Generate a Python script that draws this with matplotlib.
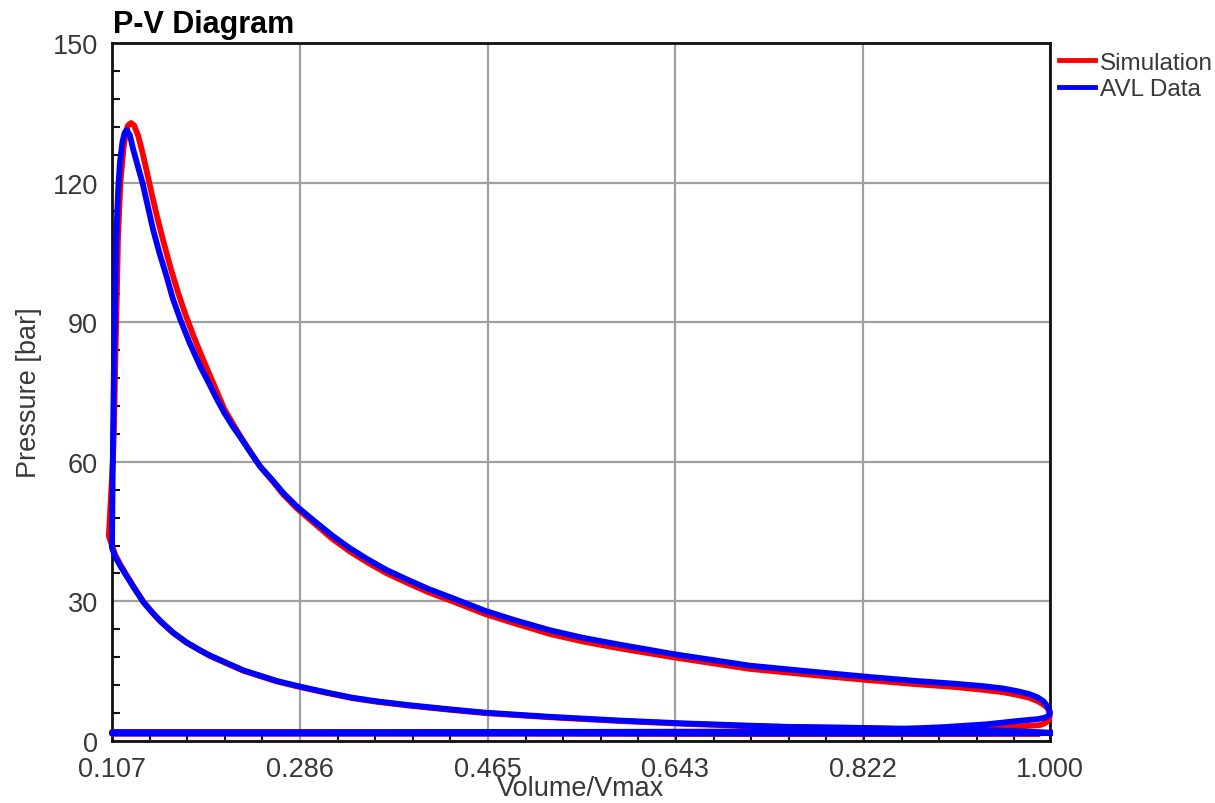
import numpy as np
import matplotlib
matplotlib.use("Agg")
import matplotlib.pyplot as plt
from matplotlib.ticker import MultipleLocator, FixedLocator, AutoMinorLocator

plt.rcParams['font.family'] = ['Liberation Sans', 'DejaVu Sans']

# ---------------- data ----------------
x_ticks = [0.107, 0.286, 0.465, 0.643, 0.822, 1.000]
x_tick_labels = ["0.107", "0.286", "0.465", "0.643", "0.822", "1.000"]
y_ticks = [0, 30, 60, 90, 120, 150]

# AVL Data (measured) -- cycle in order: compression, combustion + expansion, exhaust, intake
avl_comp_v = [1.000, 0.960, 0.900, 0.850, 0.800, 0.750, 0.714, 0.650, 0.590, 0.524,
              0.462, 0.429, 0.390, 0.360, 0.336, 0.312, 0.284, 0.264, 0.250, 0.232,
              0.215, 0.200, 0.190, 0.178, 0.165, 0.153, 0.145, 0.137, 0.128, 0.121,
              0.115, 0.110, 0.107]
avl_comp_p = [1.8, 2.2, 2.5, 2.7, 2.9, 3.05, 3.3, 3.8, 4.4, 5.2,
              6.1, 6.8, 7.7, 8.5, 9.3, 10.4, 11.8, 12.9, 13.9, 15.2,
              16.9, 18.4, 19.6, 21.2, 23.3, 25.8, 27.7, 29.8, 32.9, 35.4,
              37.6, 39.6, 41.5]
avl_exp_v = [0.107, 0.1080, 0.1090, 0.1100, 0.1108, 0.1115, 0.1130, 0.1146, 0.1170, 0.1190,
             0.1210, 0.1240, 0.1270, 0.1310, 0.1360, 0.1410, 0.1460, 0.1520, 0.1590, 0.1650,
             0.1720, 0.1810, 0.1910, 0.1990, 0.2070, 0.2140, 0.2220, 0.2300, 0.2380, 0.2480,
             0.2600, 0.2700, 0.2830, 0.3000, 0.3170, 0.3330, 0.3500, 0.3680, 0.3880, 0.4080,
             0.4290, 0.4450, 0.4620, 0.4900, 0.5240, 0.5550, 0.5880, 0.6410, 0.7140, 0.7780,
             0.8260, 0.8730, 0.9100, 0.9360, 0.9550, 0.9690, 0.9800, 0.9880, 0.9940, 0.9980,
             1.0000]
avl_exp_p = [41.9, 66.3, 82.6, 95.0, 104.0, 111.0, 119.0, 124.5, 128.8, 130.7,
             131.3, 130.2, 127.3, 124.0, 120.0, 115.0, 110.0, 105.0, 99.8, 95.0,
             90.6, 85.5, 80.5, 77.0, 73.4, 70.5, 67.6, 65.0, 62.3, 59.0,
             56.0, 53.3, 50.4, 47.2, 44.1, 41.5, 39.1, 36.8, 34.7, 32.7,
             30.9, 29.5, 28.0, 26.0, 23.8, 22.2, 20.8, 18.7, 16.2, 14.8,
             13.8, 12.9, 12.3, 11.8, 11.3, 10.7, 10.1, 9.4, 8.5, 7.3,
             6.2]
avl_exh_v = [1.000, 0.999, 0.995, 0.988, 0.969, 0.940, 0.900, 0.850, 0.800, 0.700,
             0.500, 0.300, 0.107]
avl_exh_p = [6.2, 5.5, 5.0, 4.7, 4.3, 3.6, 3.0, 2.5, 2.2, 2.0,
             1.95, 1.9, 1.9]
avl_int_v = [0.107, 0.300, 0.500, 0.700, 0.900, 1.000]
avl_int_p = [1.6, 1.6, 1.6, 1.6, 1.6, 1.7]

# Simulation
sim_comp_v = [0.988, 0.960, 0.900, 0.850, 0.800, 0.750, 0.714, 0.650, 0.590, 0.524,
              0.462, 0.429, 0.390, 0.360, 0.336, 0.312, 0.284, 0.264, 0.250, 0.232,
              0.215, 0.200, 0.190, 0.178, 0.165, 0.153, 0.145, 0.137, 0.128, 0.121,
              0.115, 0.110, 0.104]
sim_comp_p = [1.8, 2.1, 2.4, 2.6, 2.8, 3.0, 3.2, 3.7, 4.3, 5.1,
              6.0, 6.7, 7.6, 8.4, 9.2, 10.3, 11.7, 12.8, 13.8, 15.1,
              16.8, 18.3, 19.6, 21.1, 23.3, 25.7, 27.7, 29.9, 33.0, 35.6,
              37.9, 40.0, 44.0]
sim_exp_v = [0.104, 0.1080, 0.1090, 0.1100, 0.1115, 0.1127, 0.1150, 0.1180, 0.1200, 0.1220,
             0.1250, 0.1280, 0.1320, 0.1360, 0.1400, 0.1450, 0.1500, 0.1560, 0.1630, 0.1700,
             0.1770, 0.1850, 0.1950, 0.2070, 0.2140, 0.2220, 0.2300, 0.2380, 0.2480, 0.2600,
             0.2700, 0.2830, 0.3000, 0.3170, 0.3330, 0.3500, 0.3680, 0.3880, 0.4080, 0.4290,
             0.4450, 0.4620, 0.4900, 0.5240, 0.5550, 0.5880, 0.6410, 0.7140, 0.7780, 0.8260,
             0.8730, 0.9100, 0.9360, 0.9550, 0.9690, 0.9800, 0.9880, 0.9940, 0.9980, 1.0000]
sim_exp_p = [44.0, 61.0, 68.0, 80.0, 95.0, 108.0, 120.0, 127.5, 130.5, 132.2,
             132.8, 132.3, 130.0, 126.5, 122.5, 117.4, 112.6, 107.3, 101.5, 96.3,
             91.6, 86.8, 81.3, 75.0, 71.3, 68.2, 65.2, 62.4, 59.0, 55.8,
             53.0, 50.0, 46.7, 43.4, 40.8, 38.4, 36.1, 34.0, 32.0, 30.2,
             28.8, 27.3, 25.3, 23.0, 21.4, 20.0, 18.0, 15.5, 14.1, 13.1,
             12.2, 11.6, 11.0, 10.5, 9.9, 9.3, 8.6, 7.8, 7.0, 5.8]
sim_exh_v = [1.000, 0.999, 0.995, 0.990, 0.960, 0.930, 0.900, 0.850, 0.800, 0.700,
             0.500, 0.300, 0.107]
sim_exh_p = [5.8, 4.5, 3.8, 3.4, 3.0, 2.8, 2.6, 2.4, 2.2, 2.0,
             1.9, 1.9, 1.9]
sim_int_v = [0.107, 0.300, 0.500, 0.700, 0.900, 0.988]
sim_int_p = [1.6, 1.6, 1.6, 1.5, 1.5, 1.5]

# ---------------- figure ----------------
fig = plt.figure(figsize=(12.15, 8.04), dpi=100)
ax = fig.add_axes([112/1215, 1-742/804, (1050-112)/1215, (742-44)/804])

def cycle(cv, cp, ev, ep, xv, xp, iv, ip):
    v = list(cv) + list(ev) + list(xv) + list(iv)
    p = list(cp) + list(ep) + list(xp) + list(ip)
    return v, p

sv, sp = cycle(sim_comp_v, sim_comp_p, sim_exp_v, sim_exp_p, sim_exh_v, sim_exh_p, sim_int_v, sim_int_p)
av, ap = cycle(avl_comp_v, avl_comp_p, avl_exp_v, avl_exp_p, avl_exh_v, avl_exh_p, avl_int_v, avl_int_p)

lw = 4.2
ax.plot(sv, sp, color='#ff0000', lw=lw, label='Simulation', clip_on=False, zorder=3,
        solid_joinstyle='round')
ax.plot(av, ap, color='#0000ff', lw=lw, label='AVL Data', clip_on=False, zorder=4,
        solid_joinstyle='round')

ax.set_xlim(0.107, 1.000)
ax.set_ylim(0, 150)
ax.xaxis.set_major_locator(FixedLocator(x_ticks))
ax.set_xticklabels(x_tick_labels)
ax.yaxis.set_major_locator(FixedLocator(y_ticks))
ax.xaxis.set_minor_locator(AutoMinorLocator(5))
ax.yaxis.set_minor_locator(MultipleLocator(6))

ax.grid(True, which='major', color='#a0a0a0', lw=1.6)
ax.set_axisbelow(True)

txtc = '#383838'
ax.tick_params(which='major', length=0, labelsize=19.5, labelcolor=txtc, pad=10.5)
ax.tick_params(axis='y', which='major', pad=10)
ax.tick_params(which='minor', direction='in', length=6, width=1.5, color='#111111')
for s in ax.spines.values():
    s.set_linewidth(2.0)
    s.set_color('#111111')

ax.set_xlabel('Volume/Vmax', fontsize=19.5, color=txtc, labelpad=-4.5)
ax.set_ylabel('Pressure [bar]', fontsize=19.5, color=txtc, labelpad=8)

fig.text(113/1215, 1-33/804, 'P-V Diagram', fontsize=22, fontweight='bold',
         ha='left', va='baseline', color='black')

leg = ax.legend(loc='upper left', bbox_to_anchor=(1.0, 1.0), borderaxespad=0.15,
                frameon=False, fontsize=17.5, handlelength=1.5, handletextpad=0.2,
                labelspacing=0.2, borderpad=0.2)
for t in leg.get_texts():
    t.set_color(txtc)
for h in leg.get_lines():
    h.set_linewidth(3.5)

fig.savefig('out.png', dpi=100)
